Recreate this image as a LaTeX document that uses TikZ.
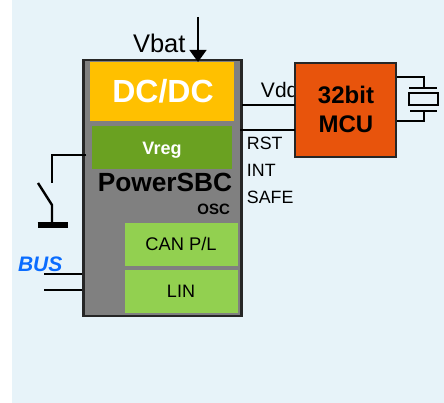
\documentclass[tikz,border=0pt]{standalone}
\usepackage{fontspec}
\setmainfont{Liberation Sans}
\usetikzlibrary{arrows.meta}
\definecolor{bgblue}{HTML}{E7F3F9}
\definecolor{sbcgray}{HTML}{808080}
\definecolor{dcorange}{HTML}{FFC000}
\definecolor{vreggreen}{HTML}{6AA121}
\definecolor{canfill}{HTML}{92D050}
\definecolor{mcufill}{HTML}{E8540C}
\definecolor{busblue}{HTML}{0A6CFF}
\newcommand{\fpx}[1]{\fontsize{\the\dimexpr #1pt*3/4\relax}{\the\dimexpr #1pt\relax}\selectfont}
\tikzset{
  x=0.75pt,y=-0.75pt,
  txt/.style={inner sep=0pt,outer sep=0pt,text=black},
  blockbox/.style={inner sep=0pt,outer sep=0pt,draw=none},
  wire/.style={draw=black,line width=1.8pt,line cap=butt},
  thinwire/.style={draw=black,line width=1.3pt},
}
\begin{document}
\begin{tikzpicture}
\useasboundingbox (0,0) rectangle (444,403);
\fill[white] (0,0) rectangle (444,403);
\fill[bgblue] (12,0) rectangle (444,403);
% SBC
\node[inner sep=0pt,outer sep=0pt,anchor=north west,fill=sbcgray,draw=black!85,line width=1.7pt,minimum width=118.5pt,minimum height=192pt] (sbc) at (83.5,60) {};
\node[blockbox,fill=dcorange,anchor=north west,minimum width=108pt,minimum height=44.5pt] (dc) at (90,62) {};
\node[blockbox,fill=vreggreen,anchor=north west,minimum width=105pt,minimum height=32.5pt] (vreg) at (92,126) {};
\node[blockbox,fill=canfill,anchor=north west,minimum width=84.75pt,minimum height=32.25pt] (can) at (125,223) {};
\node[blockbox,fill=canfill,anchor=north west,minimum width=84.75pt,minimum height=32.25pt] (lin) at (125,270) {};
% labels inside
\node[txt,anchor=base,text=white,font=\fpx{32}\bfseries] (dclabel) at (163,103) {DC/DC};
\node[txt,anchor=base,text=white,font=\fpx{18}\bfseries] (vreglabel) at (162,155) {Vreg};
\node[txt,anchor=base,font=\fpx{26.3}\bfseries] (sbclabel) at (165,192) {PowerSBC};
\node[txt,anchor=base east,font=\fpx{15}\bfseries] (osclabel) at (230,215) {OSC};
\node[txt,anchor=base,font=\fpx{18.3}] (canlabel) at (181,251) {CAN P/L};
\node[txt,anchor=base,font=\fpx{18}] (linlabel) at (181,298) {LIN};
% outside labels
\node[txt,anchor=base west,font=\fpx{25.5}] (vbat) at (133,53) {Vbat};
\node[txt,anchor=base west,font=\fpx{21}] (vdd) at (261,98) {Vdd};
\node[txt,anchor=base west,font=\fpx{17.8}] (rst) at (247,150) {RST};
\node[txt,anchor=base west,font=\fpx{17.8}] (int) at (247,177) {INT};
\node[txt,anchor=base west,font=\fpx{17.8}] (safe) at (247,204) {SAFE};
% MCU
\node[inner sep=0pt,outer sep=0pt,anchor=north west,fill=mcufill,draw=black!85,line width=1.3pt,minimum width=76pt,minimum height=70.5pt] (mcu) at (295,63) {};
\node[txt,anchor=base,font=\fpx{24}\bfseries] (mcua) at (346,104) {32bit};
\node[txt,anchor=base,font=\fpx{24}\bfseries] (mcub) at (346,133) {MCU};
% Vbat arrow
\coordinate (vbattop) at (198,17);
\coordinate (vbatend) at (198,62);
\draw[wire,-{Triangle[width=12.5pt,length=9pt]}] (vbattop) -- (vbatend);
% Rails to MCU
\coordinate (vddl) at (242,105);
\coordinate (vddr) at (295,105);
\coordinate (rstl) at (240,130);
\coordinate (rstr) at (295,130);
\draw[wire] (vddl) -- (vddr);
\draw[thinwire] (rstl) -- (rstr);
% Switch
\coordinate (swa) at (86,155);
\coordinate (swb) at (52,155);
\coordinate (swc) at (52,183);
\coordinate (swd) at (38,183);
\coordinate (swe) at (52,205);
\coordinate (swf) at (52,225);
\coordinate (gl) at (37.5,225);
\coordinate (gr) at (67.5,225);
\draw[wire] (swa) -- (swb) -- (swc);
\draw[wire] (swd) -- (swe) -- (swf);
\draw[draw=black,line width=4.5pt] (gl) -- (gr);
% BUS
\node[txt,anchor=base west,text=busblue,font=\fpx{21}\bfseries\itshape] (bus) at (18,272) {BUS};
\coordinate (busa) at (44,274);
\coordinate (busb) at (82,274);
\coordinate (busc) at (44,290);
\coordinate (busd) at (82,290);
\draw[thinwire] (busa) -- (busb);
\draw[thinwire] (busc) -- (busd);
% Crystal
\coordinate (xa) at (397,77);
\coordinate (xb) at (424,77);
\coordinate (xc) at (424,88);
\coordinate (xd) at (409,88);
\coordinate (xe) at (437,88);
\coordinate (xf) at (410,111);
\coordinate (xg) at (437,111);
\coordinate (xh) at (424,111);
\coordinate (xi) at (424,121);
\coordinate (xj) at (397,121);
\draw[thinwire] (xa) -- (xb) -- (xc);
\draw[thinwire] (xd) -- (xe);
\node[inner sep=0pt,outer sep=0pt,anchor=north west,draw=black,line width=1.3pt,minimum width=21.75pt,minimum height=9pt] (xtal) at (409,93) {};
\draw[thinwire] (xf) -- (xg);
\draw[thinwire] (xh) -- (xi) -- (xj);
\end{tikzpicture}
\end{document}
